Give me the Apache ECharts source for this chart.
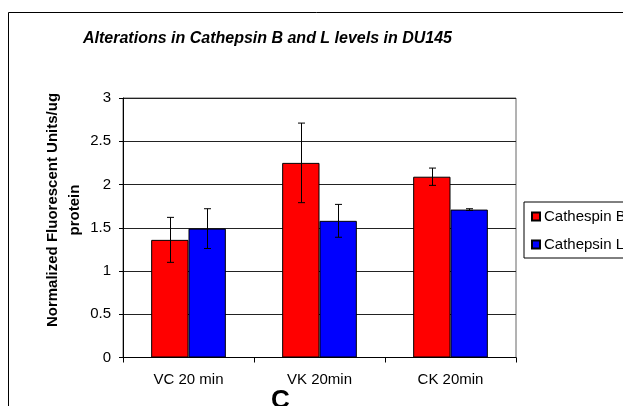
<!DOCTYPE html>
<html>
<head>
<meta charset="utf-8">
<script src="https://cdn.jsdelivr.net/npm/echarts@6/dist/echarts.min.js"></script>
<style>html,body{margin:0;padding:0;background:#fff;}#c{width:623px;height:406px;}</style>
</head>
<body>
<div id="c"></div>
<script>
var categories = ['VC 20 min', 'VK 20min', 'CK 20min'];
var seriesNames = ['Cathespin B', 'Cathepsin L'];
var cathepsinB = [1.36, 2.25, 2.09];
var cathepsinBErr = [0.26, 0.46, 0.10];
var cathepsinL = [1.49, 1.58, 1.71];
var cathepsinLErr = [0.23, 0.19, 0.01];
var yTicks = [0, 0.5, 1, 1.5, 2, 2.5, 3];

var FONT = 'Arial, "Liberation Sans", sans-serif';
var CAT_GAP = 0.43;
var barW = (1 - CAT_GAP) / 2;

function errData(vals, errs) {
  return vals.map(function (v, i) { return [i, v - errs[i], v + errs[i]]; });
}

function errRender(offsetFrac) {
  return function (params, api) {
    var i = api.value(0);
    var lo = api.coord([i, api.value(1)]);
    var hi = api.coord([i, api.value(2)]);
    var band = api.size([1, 0])[0];
    var x = Math.round(lo[0] + offsetFrac * band) + 0.5;
    var cap = 3.5;
    var st = { stroke: '#000', lineWidth: 1 };
    return {
      type: 'group',
      children: [
        { type: 'line', shape: { x1: x, y1: lo[1], x2: x, y2: hi[1] }, style: st },
        { type: 'line', shape: { x1: x - cap, y1: hi[1], x2: x + cap, y2: hi[1] }, style: st },
        { type: 'line', shape: { x1: x - cap, y1: lo[1], x2: x + cap, y2: lo[1] }, style: st }
      ]
    };
  };
}

var chart = echarts.init(document.getElementById('c'), null, { renderer: 'canvas' });
chart.setOption({
  animation: false,
  backgroundColor: '#fff',
  textStyle: { fontFamily: FONT },
  title: {
    text: 'Alterations in Cathepsin B and L levels in DU145',
    left: 78, top: 26,
    textStyle: { fontFamily: FONT, fontSize: 16, fontWeight: 'bold', fontStyle: 'italic', color: '#000' }
  },
  grid: { left: 123, top: 98, right: 107, bottom: 48.5, show: true, borderColor: '#666', borderWidth: 1, backgroundColor: '#fff' },
  legend: {
    orient: 'vertical',
    left: 524, top: 202,
    data: seriesNames,
    icon: 'rect',
    itemWidth: 8, itemHeight: 8,
    itemGap: 13,
    padding: [7, 40, 6, 7],
    borderColor: '#000', borderWidth: 1,
    textStyle: { fontFamily: FONT, fontSize: 15, color: '#000', padding: [0, 0, 0, -1] }
  },
  xAxis: {
    type: 'category',
    data: categories,
    axisLine: { lineStyle: { color: '#000', width: 1 } },
    axisTick: { show: true, length: 5, lineStyle: { color: '#000' } },
    axisLabel: { fontFamily: FONT, fontSize: 15, color: '#000', margin: 15 },
    splitLine: { show: false }
  },
  yAxis: {
    type: 'value',
    min: yTicks[0], max: yTicks[yTicks.length - 1], interval: 0.5,
    axisLine: { show: true, lineStyle: { color: '#000', width: 1 } },
    axisTick: { show: true, length: 4, lineStyle: { color: '#000' } },
    axisLabel: { fontFamily: FONT, fontSize: 15, color: '#000', margin: 12 },
    splitLine: { show: true, lineStyle: { color: '#222', width: 1 } }
  },
  graphic: [
    { type: 'rect', silent: true, z: 100, shape: { x: 8.5, y: 12.5, width: 700, height: 500 }, style: { fill: 'none', stroke: '#000', lineWidth: 1 } },
    { type: 'text', z: 100, x: 64, y: 210, rotation: Math.PI / 2,
      style: { text: 'Normalized Fluorescent Units/ug\nprotein', font: 'bold 15px ' + FONT, fill: '#000', align: 'center', verticalAlign: 'middle', lineHeight: 22 } },
    { type: 'text', z: 100, x: 271, y: 388,
      style: { text: 'C', font: 'bold 26px ' + FONT, fill: '#000', align: 'left', verticalAlign: 'top' } }
  ],
  series: [
    { name: seriesNames[0], type: 'bar', data: cathepsinB, barGap: '0%', barCategoryGap: (CAT_GAP * 100) + '%',
      itemStyle: { color: '#ff0000', borderColor: '#000', borderWidth: 1 } },
    { name: seriesNames[1], type: 'bar', data: cathepsinL, barGap: '0%', barCategoryGap: (CAT_GAP * 100) + '%',
      itemStyle: { color: '#0000ff', borderColor: '#000', borderWidth: 1 } },
    { type: 'custom', name: 'errB', data: errData(cathepsinB, cathepsinBErr), encode: { x: 0, y: [1, 2] }, z: 10,
      renderItem: errRender(-barW / 2), silent: true },
    { type: 'custom', name: 'errL', data: errData(cathepsinL, cathepsinLErr), encode: { x: 0, y: [1, 2] }, z: 10,
      renderItem: errRender(barW / 2), silent: true }
  ]
});
</script>
</body>
</html>
